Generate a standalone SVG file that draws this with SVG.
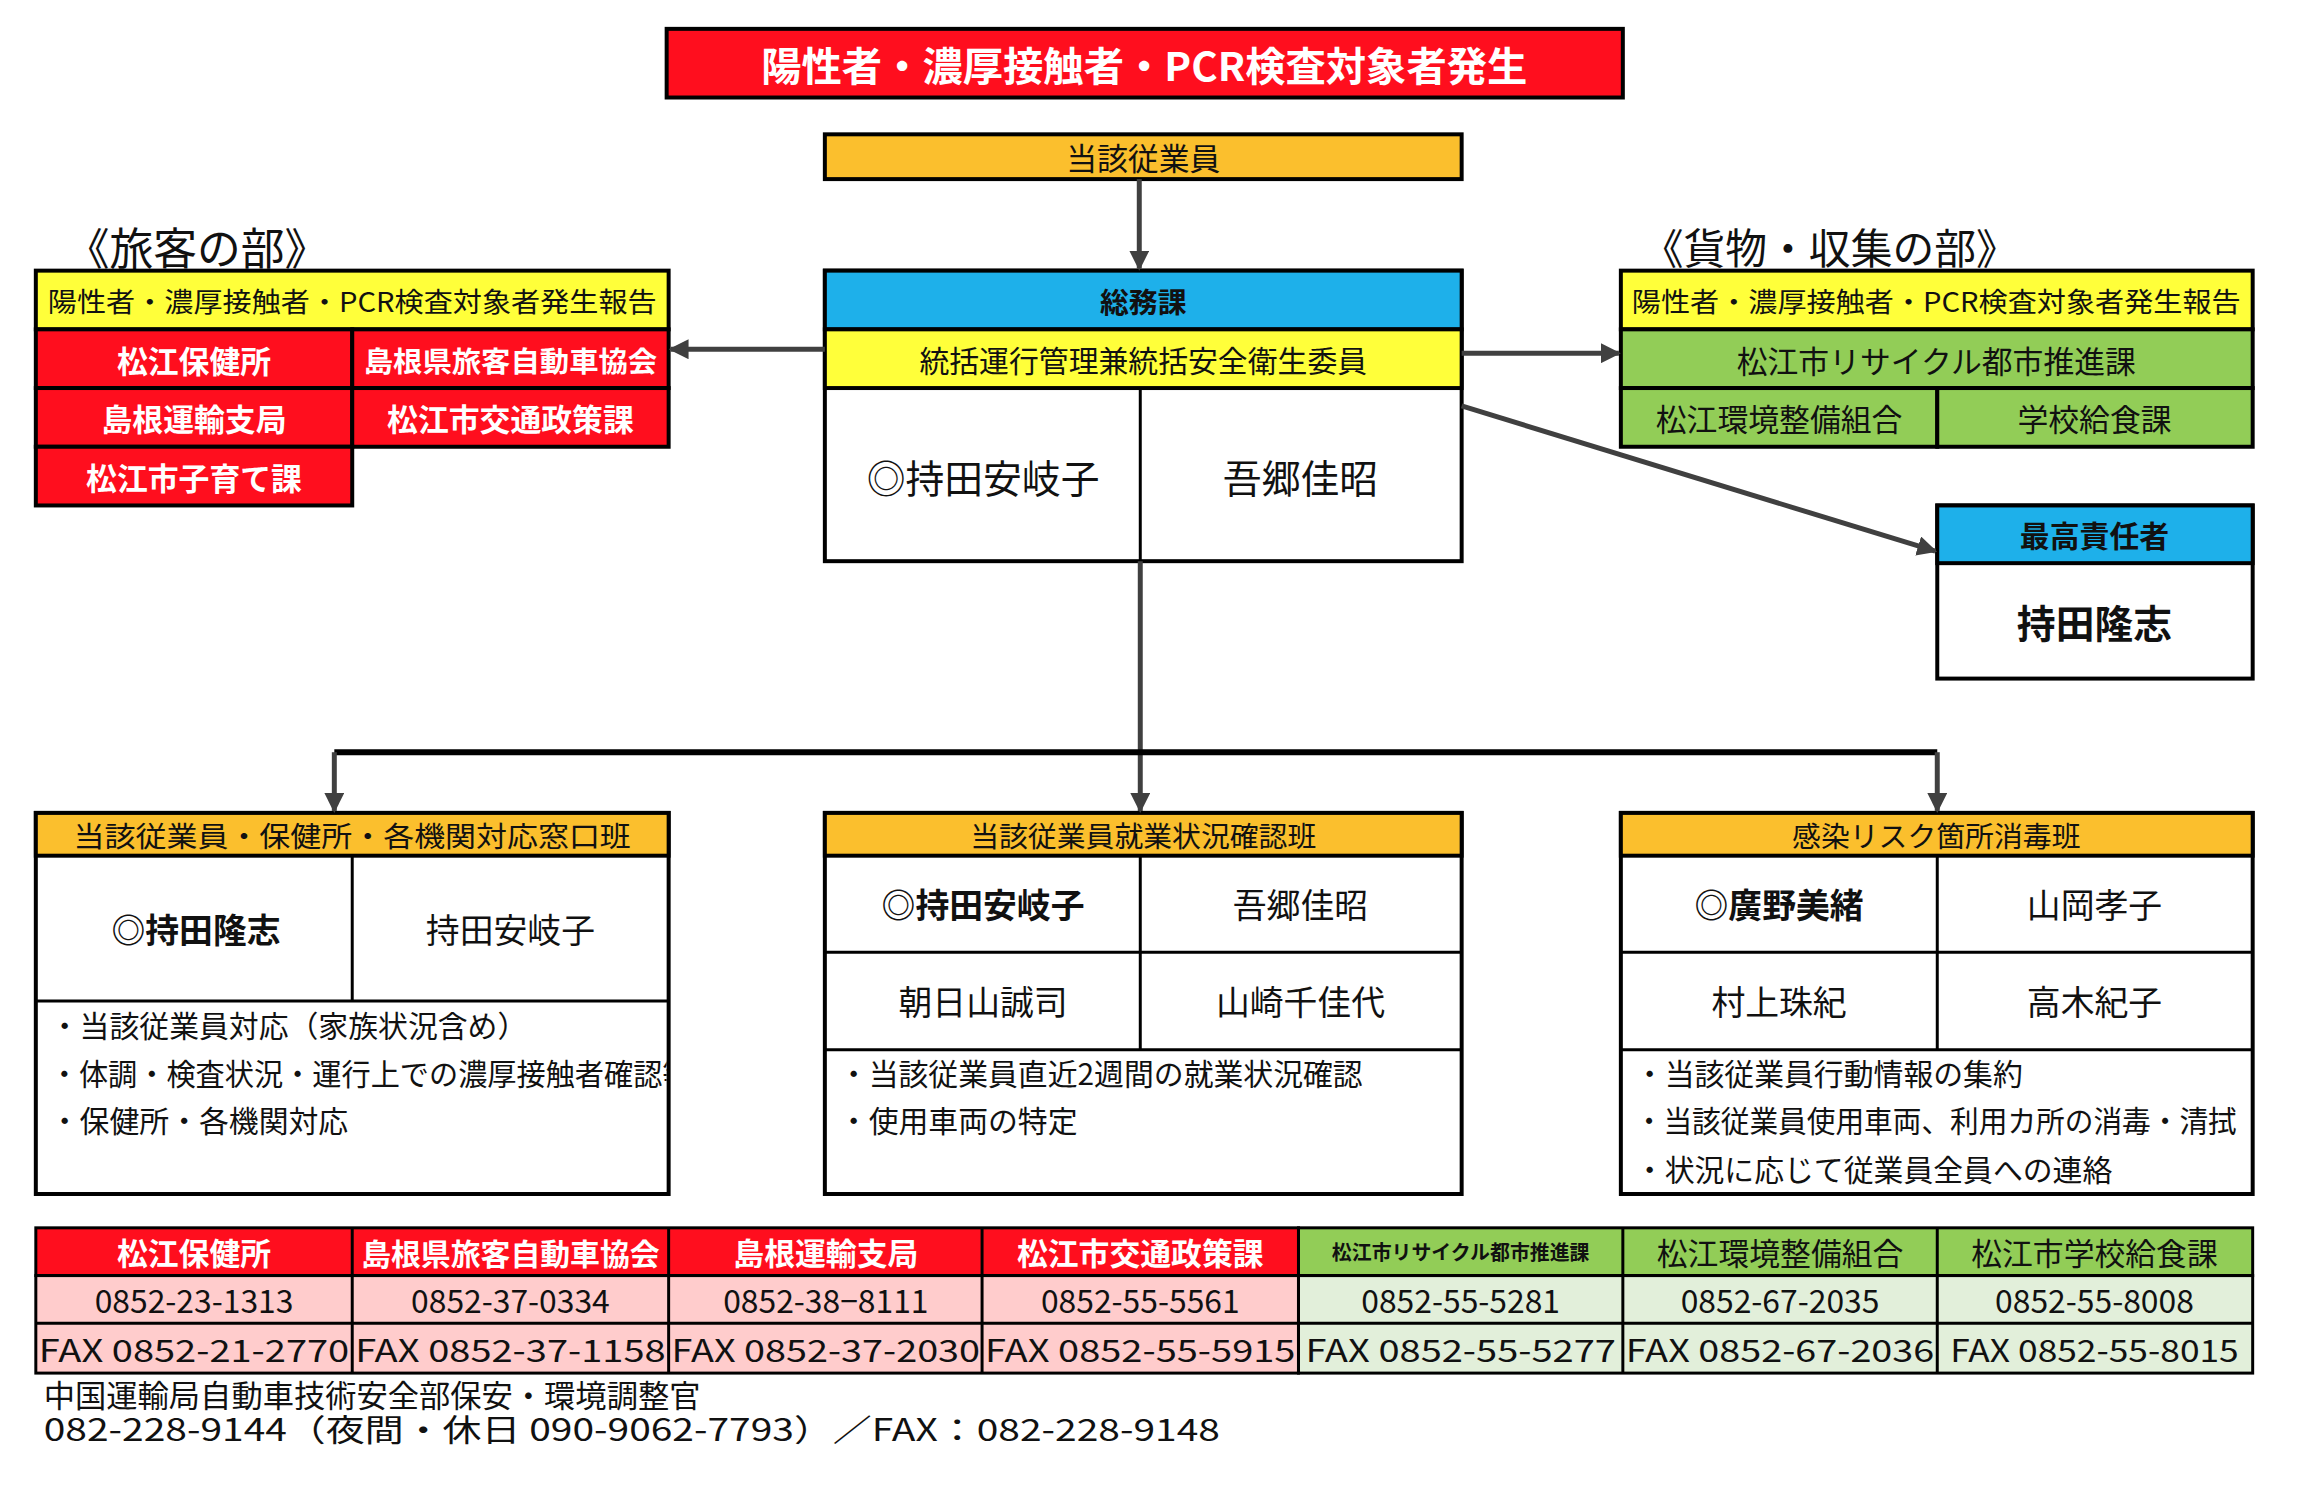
<svg xmlns="http://www.w3.org/2000/svg" width="2298" height="1486" viewBox="0 0 2298 1486">
<style>
text{font-family:"Noto Sans CJK JP","Noto Sans",sans-serif;text-anchor:middle;dominant-baseline:central;fill:#111}
.b{stroke:#000;stroke-width:4}
.t{stroke:#000;stroke-width:3}
.red{fill:#FF0E1E}.org{fill:#FBBF2D}.blu{fill:#1EB0EA}.yel{fill:#FFFF3A}.grn{fill:#92CD57}.pnk{fill:#FFCCCC}.lg{fill:#E2EFDA}.wh{fill:#fff}
.w{fill:#fff;font-weight:700}
.bd{font-weight:700}
.l{text-anchor:start}
.c{stroke:#404040;stroke-width:5;fill:none}
</style>
<defs>
<marker id="ah" viewBox="0 0 10 10" refX="9" refY="5" markerWidth="4" markerHeight="4" orient="auto" markerUnits="strokeWidth"><path d="M0,0L10,5L0,10z" fill="#404040"/></marker>
<clipPath id="cp1"><rect x="37" y="1008" width="633" height="190"/></clipPath>
</defs>
<g transform="scale(0.995)">
<g id="title"><rect x="670" y="29" width="961" height="69" class="red b"/><text x="1150" y="64" font-size="40" class="w" textLength="770" lengthAdjust="spacingAndGlyphs">陽性者・濃厚接触者・PCR検査対象者発生</text></g>
<g id="employee"><rect x="829" y="135" width="640" height="45" class="org b"/><text x="1149" y="157" font-size="31">当該従業員</text></g>
<g id="soumu">
<rect x="829" y="272" width="640" height="292" class="wh b"/>
<rect x="829" y="272" width="640" height="59" class="blu b"/><text x="1149" y="302" font-size="29" class="bd">総務課</text>
<rect x="829" y="331" width="640" height="59" class="yel b"/><text x="1149" y="361" font-size="30">統括運行管理兼統括安全衛生委員</text>
<line x1="1146" y1="390" x2="1146" y2="564" class="t"/>
<text x="988" y="478" font-size="39">◎持田安岐子</text><text x="1307" y="478" font-size="39">吾郷佳昭</text>
</g>
<g id="ryokaku">
<text x="66" y="247" font-size="44" class="l">《旅客の部》</text>
<rect x="36" y="272" width="636" height="59" class="yel b"/><text x="354" y="302" font-size="27" textLength="612" lengthAdjust="spacingAndGlyphs">陽性者・濃厚接触者・PCR検査対象者発生報告</text>
<rect x="36" y="331" width="318" height="59" class="red b"/><text x="195" y="361" font-size="31" class="w">松江保健所</text>
<rect x="354" y="331" width="318" height="59" class="red b"/><text x="513" y="361" font-size="29" class="w" textLength="295" lengthAdjust="spacingAndGlyphs">島根県旅客自動車協会</text>
<rect x="36" y="390" width="318" height="59" class="red b"/><text x="195" y="420" font-size="31" class="w">島根運輸支局</text>
<rect x="354" y="390" width="318" height="59" class="red b"/><text x="513" y="420" font-size="31" class="w">松江市交通政策課</text>
<rect x="36" y="449" width="318" height="59" class="red b"/><text x="195" y="479" font-size="31" class="w">松江市子育て課</text>
</g>
<g id="kamotsu">
<text x="1650" y="247" font-size="42" class="l">《貨物・収集の部》</text>
<rect x="1629" y="272" width="635" height="59" class="yel b"/><text x="1946" y="302" font-size="27" textLength="612" lengthAdjust="spacingAndGlyphs">陽性者・濃厚接触者・PCR検査対象者発生報告</text>
<rect x="1629" y="331" width="635" height="59" class="grn b"/><text x="1946" y="361" font-size="31">松江市リサイクル都市推進課</text>
<rect x="1629" y="390" width="318" height="59" class="grn b"/><text x="1788" y="420" font-size="31">松江環境整備組合</text>
<rect x="1947" y="390" width="317" height="59" class="grn b"/><text x="2105" y="420" font-size="31">学校給食課</text>
</g>
<g id="saikou">
<rect x="1947" y="508" width="317" height="174" class="wh b"/>
<rect x="1947" y="508" width="317" height="58" class="blu b"/><text x="2105" y="537" font-size="30" class="bd">最高責任者</text>
<text x="2105" y="624" font-size="39" class="bd">持田隆志</text>
</g>
<g id="han1">
<rect x="36" y="817" width="636" height="383" class="wh b"/>
<rect x="36" y="817" width="636" height="43" class="org b"/><text x="354" y="839" font-size="29" textLength="560" lengthAdjust="spacingAndGlyphs">当該従業員・保健所・各機関対応窓口班</text>
<line x1="36" y1="1006" x2="672" y2="1006" class="t"/><line x1="354" y1="860" x2="354" y2="1006" class="t"/>
<text x="197" y="933" font-size="34" class="bd">◎持田隆志</text><text x="513" y="933" font-size="34">持田安岐子</text>
<g clip-path="url(#cp1)" font-size="30">
<text x="50" y="1029" class="l">・当該従業員対応（家族状況含め）</text>
<text x="50" y="1077" class="l" textLength="645" lengthAdjust="spacingAndGlyphs">・体調・検査状況・運行上での濃厚接触者確認等</text>
<text x="50" y="1125" class="l">・保健所・各機関対応</text>
</g>
</g>
<g id="han2">
<rect x="829" y="817" width="640" height="383" class="wh b"/>
<rect x="829" y="817" width="640" height="43" class="org b"/><text x="1149" y="839" font-size="29">当該従業員就業状況確認班</text>
<line x1="829" y1="957" x2="1469" y2="957" class="t"/><line x1="829" y1="1055" x2="1469" y2="1055" class="t"/><line x1="1146" y1="860" x2="1146" y2="1055" class="t"/>
<text x="988" y="908" font-size="34" class="bd">◎持田安岐子</text><text x="1307" y="908" font-size="34">吾郷佳昭</text>
<text x="988" y="1006" font-size="34">朝日山誠司</text><text x="1307" y="1006" font-size="34">山崎千佳代</text>
<text x="843" y="1077" font-size="30" class="l">・当該従業員直近2週間の就業状況確認</text>
<text x="843" y="1125" font-size="30" class="l">・使用車両の特定</text>
</g>
<g id="han3">
<rect x="1629" y="817" width="635" height="383" class="wh b"/>
<rect x="1629" y="817" width="635" height="43" class="org b"/><text x="1946" y="839" font-size="29">感染リスク箇所消毒班</text>
<line x1="1629" y1="957" x2="2264" y2="957" class="t"/><line x1="1629" y1="1055" x2="2264" y2="1055" class="t"/><line x1="1947" y1="860" x2="1947" y2="1055" class="t"/>
<text x="1788" y="908" font-size="34" class="bd">◎廣野美緒</text><text x="2105" y="908" font-size="34">山岡孝子</text>
<text x="1788" y="1006" font-size="34">村上珠紀</text><text x="2105" y="1006" font-size="34">高木紀子</text>
<text x="1643" y="1077" font-size="30" class="l">・当該従業員行動情報の集約</text>
<text x="1643" y="1125" font-size="30" class="l" textLength="605" lengthAdjust="spacingAndGlyphs">・当該従業員使用車両、利用カ所の消毒・清拭</text>
<text x="1643" y="1174" font-size="30" class="l">・状況に応じて従業員全員への連絡</text>
</g>
<g id="table" font-size="32">
<rect x="36" y="1234" width="1269" height="48" class="red t"/>
<rect x="36" y="1282" width="1269" height="98" class="pnk t"/>
<rect x="1305" y="1234" width="959" height="48" class="grn t"/>
<rect x="1305" y="1282" width="959" height="98" class="lg t"/>
<g class="t">
<line x1="354" y1="1234" x2="354" y2="1380"/><line x1="672" y1="1234" x2="672" y2="1380"/><line x1="987" y1="1234" x2="987" y2="1380"/><line x1="1305" y1="1234" x2="1305" y2="1380"/><line x1="1631" y1="1234" x2="1631" y2="1380"/><line x1="1947" y1="1234" x2="1947" y2="1380"/>
<line x1="36" y1="1282" x2="2264" y2="1282"/><line x1="36" y1="1330" x2="2264" y2="1330"/>
</g>
<text x="195" y="1258" class="w" font-size="31">松江保健所</text>
<text x="513" y="1258" class="w" textLength="300" lengthAdjust="spacingAndGlyphs" font-size="30">島根県旅客自動車協会</text>
<text x="830" y="1258" class="w" font-size="31">島根運輸支局</text>
<text x="1146" y="1258" class="w" font-size="31">松江市交通政策課</text>
<text x="1468" y="1258" font-size="20" class="bd">松江市リサイクル都市推進課</text>
<text x="1789" y="1258" font-size="31">松江環境整備組合</text>
<text x="2105" y="1258" font-size="31">松江市学校給食課</text>
<text x="195" y="1306">0852-23-1313</text><text x="513" y="1306">0852-37-0334</text><text x="830" y="1306">0852-38−8111</text><text x="1146" y="1306">0852-55-5561</text><text x="1468" y="1306">0852-55-5281</text><text x="1789" y="1306">0852-67-2035</text><text x="2105" y="1306">0852-55-8008</text>
<g font-size="31">
<text x="195" y="1355" textLength="312" lengthAdjust="spacingAndGlyphs">FAX 0852-21-2770</text>
<text x="513" y="1355" textLength="312" lengthAdjust="spacingAndGlyphs">FAX 0852-37-1158</text>
<text x="830" y="1355" textLength="310" lengthAdjust="spacingAndGlyphs">FAX 0852-37-2030</text>
<text x="1146" y="1355" textLength="312" lengthAdjust="spacingAndGlyphs">FAX 0852-55-5915</text>
<text x="1468" y="1355" textLength="312" lengthAdjust="spacingAndGlyphs">FAX 0852-55-5277</text>
<text x="1789" y="1355" textLength="310" lengthAdjust="spacingAndGlyphs">FAX 0852-67-2036</text>
<text x="2105" y="1355" textLength="290" lengthAdjust="spacingAndGlyphs">FAX 0852-55-8015</text>
</g>
</g>
<g id="footer" font-size="31">
<text x="44" y="1400" class="l" textLength="660" lengthAdjust="spacingAndGlyphs">中国運輸局自動車技術安全部保安・環境調整官</text>
<text x="44" y="1435" class="l" textLength="1182" lengthAdjust="spacingAndGlyphs">082-228-9144（夜間・休日 090-9062-7793）／FAX：082-228-9148</text>
</g>
<g id="connectors">
<line x1="1145" y1="180" x2="1145" y2="270" class="c" marker-end="url(#ah)"/>
<line x1="829" y1="351" x2="674" y2="351" class="c" marker-end="url(#ah)"/>
<line x1="1469" y1="355" x2="1627" y2="355" class="c" marker-end="url(#ah)"/>
<line x1="1469" y1="408" x2="1945" y2="554" class="c" marker-end="url(#ah)"/>
<line x1="1146" y1="564" x2="1146" y2="815" class="c" marker-end="url(#ah)"/>
<line x1="336" y1="756" x2="1947" y2="756" stroke="#000" stroke-width="6"/>
<line x1="336" y1="756" x2="336" y2="815" class="c" marker-end="url(#ah)"/>
<line x1="1947" y1="756" x2="1947" y2="815" class="c" marker-end="url(#ah)"/>
</g>
</g>
</svg>
